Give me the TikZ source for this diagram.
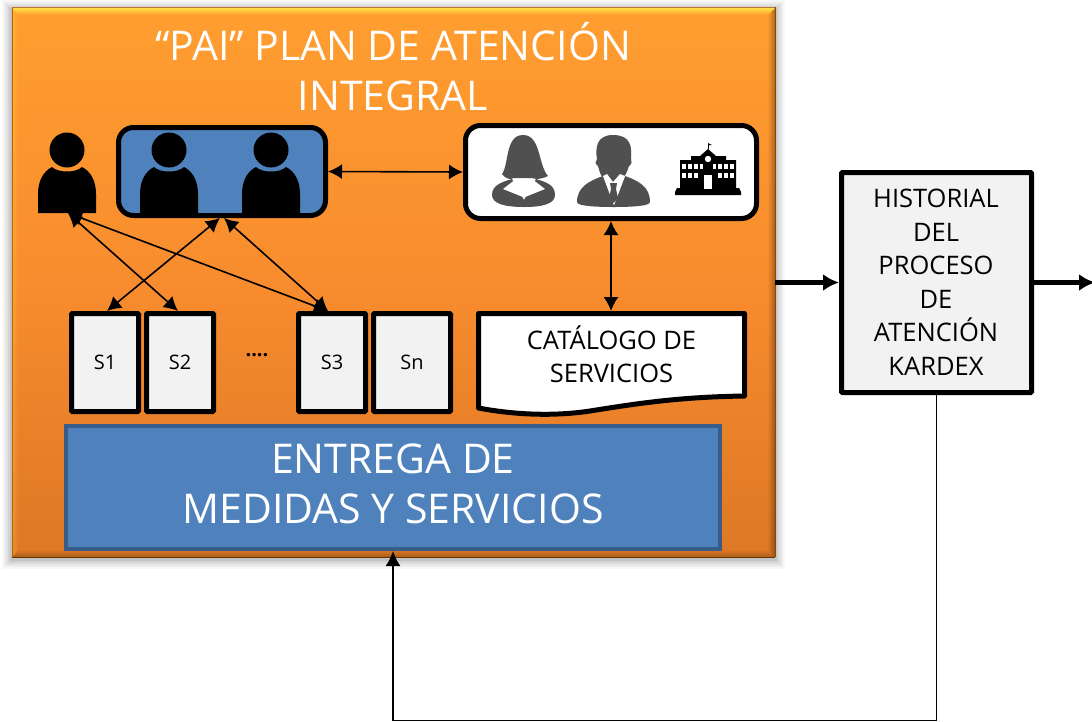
\documentclass[tikz,border=0pt]{standalone}
\usepackage{fontspec}
\setmainfont{Open Sans}
\usetikzlibrary{arrows.meta,calc}
\definecolor{boxblue}{HTML}{4F81BD}
\definecolor{boxblueline}{HTML}{385D8A}
\definecolor{orangetop}{HTML}{FF9E30}
\definecolor{orangemid}{HTML}{F88C2E}
\definecolor{orangelow}{HTML}{DE7825}
\definecolor{panelgray}{HTML}{F2F2F2}
\definecolor{icongray}{HTML}{505050}
\tikzset{
  sbox/.style={draw=black,line width=5pt,fill=panelgray,rounded corners=1pt,minimum width=67pt,minimum height=98pt,inner sep=0pt,font=\fontsize{20}{24}\selectfont},
  roundbox/.style={draw=black,line width=5pt,rounded corners=15pt,inner sep=0pt},
  thinarrow/.style={line width=1.6pt,{Latex[length=14pt,width=15pt]}-{Latex[length=14pt,width=15pt]}},
  onearrow/.style={line width=1.6pt,-{Latex[length=15pt,width=15pt]}},
  thickarrow/.style={line width=5pt,-{Latex[length=16pt,width=17pt]}},
  freenode/.style={inner sep=0pt,outer sep=0pt},
  personshape/.style={fill=black,draw=none},
  bigtext/.style={text=white,align=center,inner sep=0pt,font=\fontsize{41}{50}\selectfont},
  midtext/.style={text=black,align=center,inner sep=0pt,font=\fontsize{25.5}{33.5}\selectfont},
}
\newcommand{\personicon}[3]{%
  % #1 = centre x, #2 = halo colour, #3 = unused top y
  \fill[personshape] (#1-29,213) -- (#1-29,194) .. controls (#1-29,180) and (#1-23,171) .. (#1-15,167)
     .. controls (#1-9,173) and (#1+9,173) .. (#1+15,167)
     .. controls (#1+23,171) and (#1+29,180) .. (#1+29,194) -- (#1+29,213) -- cycle;
  \fill[personshape] (#1,150) circle (17.5);
}
\begin{document}
\begin{tikzpicture}[x=1pt,y=-1pt]
\useasboundingbox (0,0) rectangle (1092,721);
% soft shadow of the panel
\foreach \d/\o in {10/.03,8/.04,6/.05,4/.06,2/.08}{
  \fill[black,opacity=\o] (12-\d,7-\d+3) rectangle (775+\d,557+\d+2);
}
% panel body
\shade[top color=orangetop,bottom color=orangelow,middle color=orangemid] (12,7) rectangle (775,557);
% bevels
\foreach \i/\o in {0/.75,1/.62,2/.5,3/.38,4/.26,5/.16,6/.08}{
  \fill[yellow!70!white,opacity=\o] (12+\i,8+\i) -- (775-\i,8+\i) -- (775-\i-1,9+\i) -- (12+\i+1,9+\i) -- cycle;
  \fill[yellow!70!white,opacity=\o*.3] (12+\i,8+\i) -- (13+\i,9+\i) -- (13+\i,556-\i) -- (12+\i,557-\i) -- cycle;
  \fill[black,opacity=\o*.35] (775-\i,8+\i) -- (774-\i,9+\i) -- (774-\i,556-\i) -- (775-\i,557-\i) -- cycle;
  \fill[black,opacity=\o*.25] (12+\i,557-\i) -- (13+\i,556-\i) -- (774-\i,556-\i) -- (775-\i,557-\i) -- cycle;
}
\draw[line width=1pt,draw=black!35!orange!80!white] (12,7) -- (775,7);
\draw[line width=1pt,draw=black!60!orange] (12,557) -- (775,557);
\draw[line width=.8pt,draw=black!45!orange] (775,7) -- (775,557);
\draw[line width=.8pt,draw=black!25!orange] (12,7) -- (12,557);

% title
\node[bigtext] (title) at (393,67) {“PAI” PLAN DE ATENCIÓN\\INTEGRAL};

% people group
\node[roundbox,fill=boxblue,minimum width=207pt,minimum height=88pt] (group) at (222,171.5) {};
\node[roundbox,fill=white,minimum width=291pt,minimum height=93pt] (officials) at (611,172) {};
\node[freenode,minimum width=58pt,minimum height=81pt] (client) at (67,172.5) {};
\personicon{67}{orange}{0}
\personicon{169}{boxblue}{0}
\personicon{271}{boxblue}{0}

% woman icon
\begin{scope}[shift={(492,135)}]
\fill[icongray] (10,39) .. controls (17,30) and (13,0) .. (31,0) .. controls (49,0) and (46,30) .. (56,41)
  .. controls (48,45) and (42,44) .. (40,43) -- (22,43) .. controls (18,45) and (14,44) .. (10,39) -- cycle;
\fill[icongray] (0,60) .. controls (0,50) and (10,47) .. (20,44) -- (32,65) -- (44,44) .. controls (54,47) and (63,50) .. (63,60)
  .. controls (63,69) and (50,72) .. (32,72) .. controls (14,72) and (0,69) .. (0,60) -- cycle;
\fill[white] (11,54) -- (24,44) -- (31,62) -- cycle;
\fill[white] (53,54) -- (40,44) -- (33,62) -- cycle;
\end{scope}
% man icon
\begin{scope}[shift={(577,135)}]
\fill[icongray] (36,0) .. controls (54,0) and (55,12) .. (54,24) .. controls (55,26) and (55,29) .. (52,31)
  .. controls (48,44) and (42,50) .. (36,50) .. controls (30,50) and (24,44) .. (21,31)
  .. controls (18,29) and (18,26) .. (20,24) .. controls (18,12) and (20,0) .. (36,0) -- cycle;
\fill[icongray] (0,67) .. controls (0,52) and (12,46) .. (26,41) -- (37,70) -- (48,41)
  .. controls (62,46) and (73,52) .. (73,67) .. controls (73,71) and (55,72) .. (37,72) .. controls (18,72) and (0,71) .. (0,67) -- cycle;
\fill[white] (26,41) -- (30,39) -- (36,47) -- (43,39) -- (48,41) -- (37,70) -- cycle;
\fill[icongray] (33,48) -- (40,48) -- (39,54) -- (41,63) -- (36.5,68) -- (32,63) -- (34,54) -- cycle;
\end{scope}
% school icon
\begin{scope}[shift={(675,146)}]
\fill[black] (0,46) -- (2,42) -- (5,42) -- (5,14) -- (16,14) -- (16,10) -- (25,10) -- (33,3) -- (41,10) -- (51,10) -- (51,14) -- (61,14) -- (61,42) -- (64,42) -- (66,46) -- (66,49) -- (0,49) -- cycle;
\draw[black,line width=.7pt] (33,3) -- (33,-2);
\fill[black] (33,-3) -- (37,-1) -- (33,-1) -- cycle;
\fill[white] (33,13) circle (3.2);
\foreach \yy in {18,27}{
  \foreach \xx in {8,14,20,44,50,56}{
    \fill[white] (\xx-1,\yy) rectangle (\xx+3,\yy+5);
  }
}
\foreach \xx in {26,39}{\fill[white] (\xx-1,18) rectangle (\xx+2,23);}
\fill[white] (29,29) rectangle (37,43);
\end{scope}

% S boxes
\node[sbox] (s1) at (105,362.5) {S1};
\node[sbox] (s2) at (180,362.5) {S2};
\node[sbox] (s3) at (332,362.5) {S3};
\node[sbox,minimum width=77pt] (sn) at (412,362.5) {Sn};
\node[freenode,font=\fontsize{20}{24}\bfseries\selectfont] (dots) at (257,355) {....};

% catalog
\draw[draw=black,line width=5pt,fill=white,line join=round] (478.5,313.5) -- (744.5,313.5) -- (744.5,396)
  .. controls (680,397) and (640,403) .. (590,411) .. controls (550,417) and (510,414) .. (478.5,408) -- cycle;
\node[freenode,minimum width=266pt,minimum height=90pt,midtext] (catalog) at (611.5,354) {CATÁLOGO DE\\SERVICIOS};

% delivery bar
\node[draw=boxblueline,line width=4pt,fill=boxblue,minimum width=654pt,minimum height=123pt,inner sep=0pt] (entrega) at (393,487.5) {};
\node[bigtext] (entregatext) at (393,484) {ENTREGA DE\\MEDIDAS Y SERVICIOS};

% history
\node[draw=black,line width=5pt,fill=panelgray,rounded corners=1pt,minimum width=190pt,minimum height=220pt,inner sep=0pt] (hist) at (936.5,282.5) {};
\node[midtext] (histtext) at (936,282) {HISTORIAL\\DEL\\PROCESO\\DE\\ATENCIÓN\\KARDEX};

% connectors
\coordinate (panelright) at (775,282.5);
\coordinate (offpage) at (1095,282.5);
\coordinate (loopright) at (937,720.5);
\coordinate (loopleft) at (393,720.5);
\draw[thinarrow] (group.east) -- (officials.west);
\draw[thinarrow] ([xshift=0pt]officials.south) -- ([xshift=0pt]s3.north -| officials.south);
\draw[thinarrow] ([xshift=1pt,yshift=0pt]client.south) -- ([xshift=-2pt]s2.north);
\draw[thinarrow] ([xshift=1pt]client.south) -- ([xshift=-4pt]s3.north);
\draw[thinarrow] ([xshift=-2pt]group.south) -- ([xshift=2pt]s1.north);
\draw[thinarrow] ([xshift=2pt]group.south) -- ([xshift=-4pt]s3.north);
\draw[thickarrow] (panelright) -- (hist.west);
\draw[thickarrow] (hist.east) -- (offpage);
\draw[onearrow] (hist.south) -- (hist.south |- loopright) -- (loopleft) -- (entrega.south);
\end{tikzpicture}
\end{document}
